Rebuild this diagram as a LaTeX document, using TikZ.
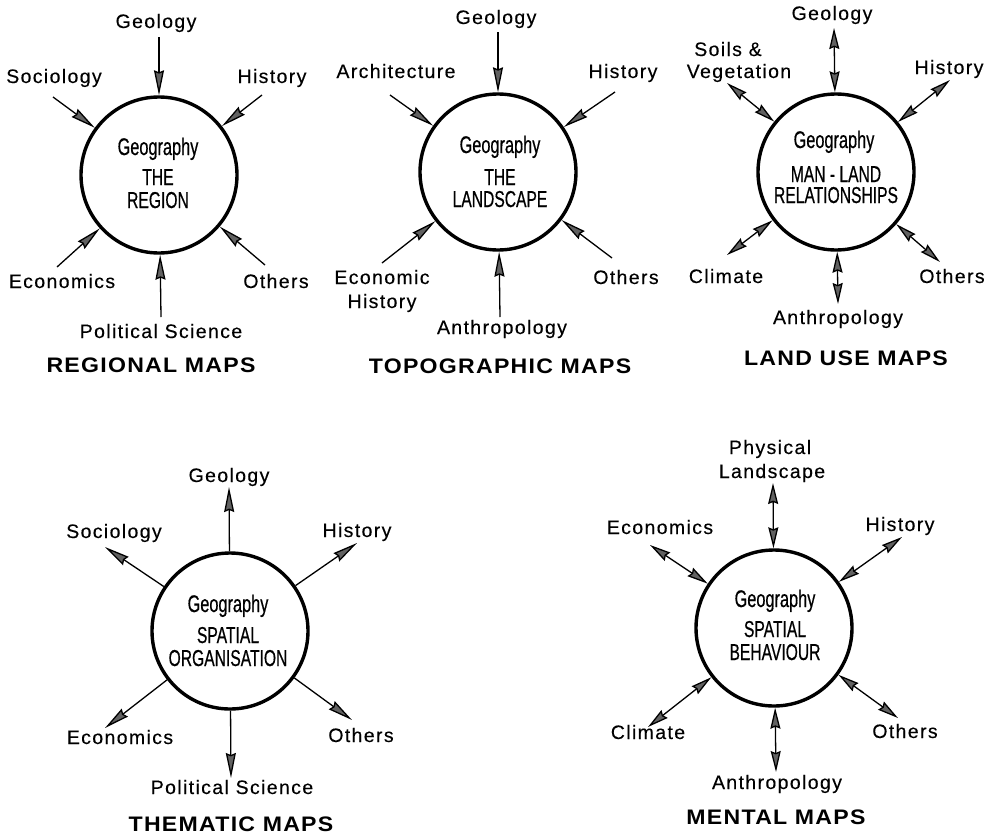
\documentclass[tikz,border=0pt]{standalone}
\usepackage{fontspec}
\setmainfont{Liberation Sans}
\newfontfamily\lblfont[LetterSpace=7,FakeBold=0.25]{Liberation Sans}
\newfontfamily\headfont[LetterSpace=6,FakeStretch=1.1]{Liberation Sans}
\newfontfamily\condfont[FakeStretch=0.68,FakeBold=0.5]{Liberation Sans}
\usetikzlibrary{arrows.meta}

\tikzset{
  >={Stealth[length=25pt,width=10pt,inset=2pt,fill=black!62]},
  shorttip/.tip={Stealth[length=21pt,width=10pt,inset=2pt,fill=black!62]},
  oneway/.style={line width=1.3pt,->},
  twoway/.style={line width=1.3pt,shorttip-shorttip},
  ring/.style={circle,draw,line width=3.4pt,minimum size=156pt,inner sep=0pt},
  lbl/.style={inner sep=0pt,anchor=base,font=\lblfont\fontsize{19.5}{22}\selectfont},
  head/.style={inner sep=0pt,anchor=base,font=\headfont\bfseries\fontsize{21}{24}\selectfont},
  geo/.style={inner sep=0pt,anchor=base,font=\condfont\fontsize{24}{26}\selectfont},
  theme/.style={inner sep=0pt,anchor=base,font=\condfont\fontsize{23}{26}\selectfont},
}

\begin{document}
\begin{tikzpicture}[x=1pt,y=-1pt]
\useasboundingbox[fill=white] (0,0) rectangle (988,836);

% ---------- Regional maps ----------
\node[ring] (c1) at (159,175) {};
\node[geo]   (c1g) at (158,155) {Geography};
\node[theme] (c1a) at (158,185) {THE};
\node[theme] (c1b) at (158,208) {REGION};
\node[lbl] (r1geo) at (156,28) {Geology};
\node[lbl] (r1soc) at (54,83) {Sociology};
\node[lbl] (r1his) at (272,83) {History};
\node[lbl] (r1eco) at (62,288) {Economics};
\node[lbl] (r1oth) at (276,288) {Others};
\node[lbl] (r1pol) at (161,338) {Political Science};
\node[head] (r1t) at (151,372) {REGIONAL MAPS};
\coordinate (r1geoA) at (159,37);
\coordinate (r1socA) at (53,97);
\coordinate (r1hisA) at (262,95);
\coordinate (r1ecoA) at (57,267);
\coordinate (r1othA) at (265,265);
\coordinate (r1polA) at (161,317);
\foreach \p in {r1geoA,r1socA,r1hisA,r1ecoA,r1othA,r1polA}
  \draw[oneway] (\p) -- (c1);

% ---------- Topographic maps ----------
\node[ring] (c2) at (498,172) {};
\node[geo]   (c2g) at (500,153) {Geography};
\node[theme] (c2a) at (500,185) {THE};
\node[theme] (c2b) at (500,207) {LANDSCAPE};
\node[lbl] (r2geo) at (496,24) {Geology};
\node[lbl] (r2arc) at (396,78) {Architecture};
\node[lbl] (r2his) at (623,78) {History};
\node[lbl] (r2eco) at (382,284) {Economic};
\node[lbl] (r2eco2) at (382,308) {History};
\node[lbl] (r2oth) at (626,284) {Others};
\node[lbl] (r2ant) at (502,334) {Anthropology};
\node[head] (r2t) at (500,373) {TOPOGRAPHIC MAPS};
\coordinate (r2geoA) at (498,32);
\coordinate (r2arcA) at (390,95);
\coordinate (r2hisA) at (615,92);
\coordinate (r2ecoA) at (382,263);
\coordinate (r2othA) at (612,258);
\coordinate (r2antA) at (500,317);
\foreach \p in {r2geoA,r2arcA,r2hisA,r2ecoA,r2othA,r2antA}
  \draw[oneway] (\p) -- (c2);

% ---------- Land use maps ----------
\node[ring] (c3) at (836,172) {};
\node[geo]   (c3g) at (834,148) {Geography};
\node[theme] (c3a) at (836,182) {MAN - LAND};
\node[theme] (c3b) at (836,203) {RELATIONSHIPS};
\node[lbl] (r3geo) at (832,20) {Geology};
\node[lbl] (r3soi) at (728,56) {Soils \&};
\node[lbl] (r3soi2) at (739,78) {Vegetation};
\node[lbl] (r3his) at (949,74) {History};
\node[lbl] (r3cli) at (726,283) {Climate};
\node[lbl] (r3oth) at (952,283) {Others};
\node[lbl] (r3ant) at (838,324) {Anthropology};
\node[head] (r3t) at (846,365) {LAND USE MAPS};
\coordinate (r3geoA) at (834,28);
\coordinate (r3soiA) at (727,83);
\coordinate (r3hisA) at (950,80);
\coordinate (r3cliA) at (727,255);
\coordinate (r3othA) at (940,262);
\coordinate (r3antA) at (838,304);
\foreach \p in {r3geoA,r3soiA,r3hisA,r3cliA,r3othA,r3antA}
  \draw[twoway] (\p) -- (c3);

% ---------- Thematic maps ----------
\node[ring] (c4) at (230,631) {};
\node[geo]   (c4g) at (228,612) {Geography};
\node[theme] (c4a) at (228,643) {SPATIAL};
\node[theme] (c4b) at (228,666) {ORGANISATION};
\node[lbl] (r4geo) at (229,482) {Geology};
\node[lbl] (r4soc) at (114,538) {Sociology};
\node[lbl] (r4his) at (357,537) {History};
\node[lbl] (r4eco) at (120,744) {Economics};
\node[lbl] (r4oth) at (361,742) {Others};
\node[lbl] (r4pol) at (232,794) {Political Science};
\node[head] (r4t) at (231,831) {THEMATIC MAPS};
\coordinate (r4geoA) at (229,487);
\coordinate (r4socA) at (105,547);
\coordinate (r4hisA) at (357,543);
\coordinate (r4ecoA) at (105,728);
\coordinate (r4othA) at (352,720);
\coordinate (r4polA) at (231,778);
\foreach \p in {r4geoA,r4socA,r4hisA,r4ecoA,r4othA,r4polA}
  \draw[oneway] (c4) -- (\p);

% ---------- Mental maps ----------
\node[ring] (c5) at (774,628) {};
\node[geo]   (c5g) at (775,607) {Geography};
\node[theme] (c5a) at (775,637) {SPATIAL};
\node[theme] (c5b) at (775,660) {BEHAVIOUR};
\node[lbl] (r5phy) at (770,454) {Physical};
\node[lbl] (r5phy2) at (772,478) {Landscape};
\node[lbl] (r5eco) at (660,534) {Economics};
\node[lbl] (r5his) at (900,531) {History};
\node[lbl] (r5cli) at (648,739) {Climate};
\node[lbl] (r5oth) at (905,738) {Others};
\node[lbl] (r5ant) at (777,789) {Anthropology};
\node[head] (r5t) at (776,824) {MENTAL MAPS};
\coordinate (r5phyA) at (773,483);
\coordinate (r5ecoA) at (650,545);
\coordinate (r5hisA) at (902,537);
\coordinate (r5cliA) at (648,727);
\coordinate (r5othA) at (898,718);
\coordinate (r5antA) at (776,772);
\foreach \p in {r5phyA,r5ecoA,r5hisA,r5cliA,r5othA,r5antA}
  \draw[twoway] (\p) -- (c5);
\end{tikzpicture}
\end{document}
